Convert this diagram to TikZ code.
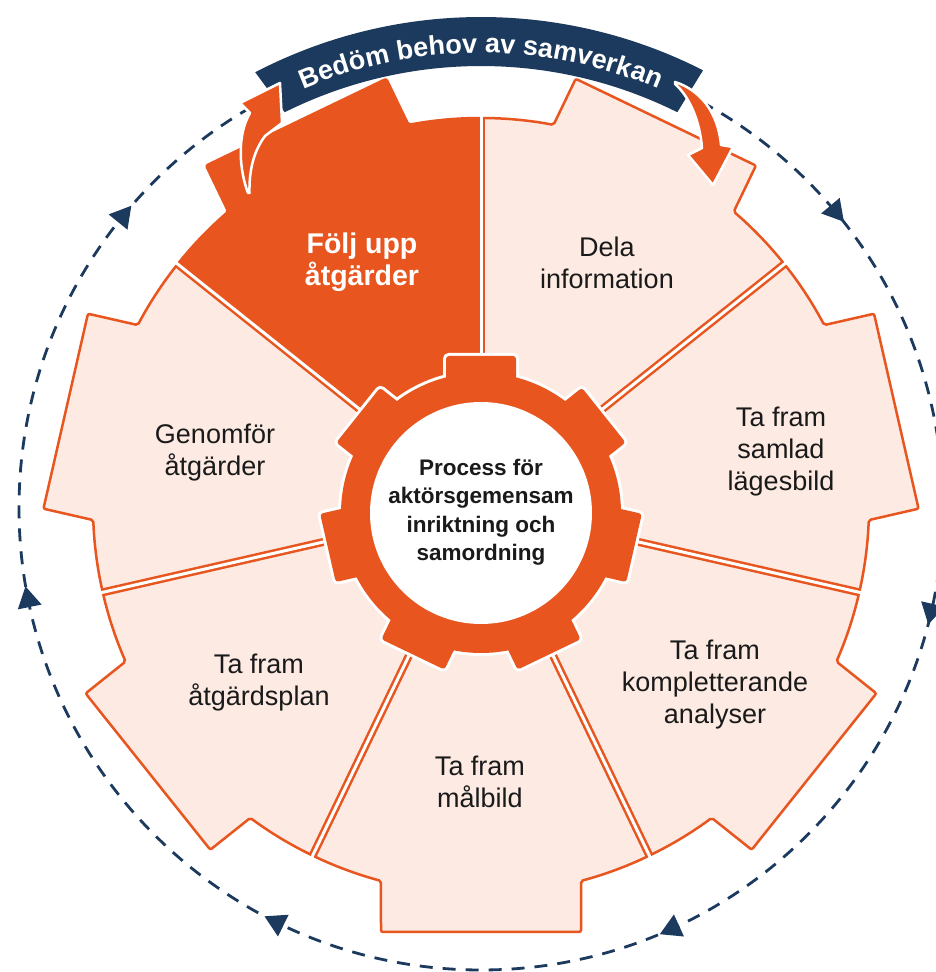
\documentclass[tikz,border=0pt]{standalone}
\usepackage{fontspec}
\setmainfont{Liberation Sans}
\usetikzlibrary{decorations.text}
\definecolor{orng}{HTML}{E8551E}
\definecolor{pinkf}{HTML}{FCEAE3}
\definecolor{navy}{HTML}{1C3A5E}
\definecolor{ink}{HTML}{1A1A1A}
\begin{document}
\begin{tikzpicture}[x=1pt,y=1pt,
  sectorshape/.style={draw=orng, line width=2.5pt, rounded corners=2pt},
  lbl/.style={align=center, font=\fontsize{27}{32}\selectfont, text=ink, inner sep=0pt},
  boldlbl/.style={align=center, font=\fontsize{28.5}{32}\selectfont\bfseries, text=white, inner sep=0pt},
  centerlbl/.style={align=center, font=\fontsize{22.5}{28.5}\selectfont\bfseries, text=ink, inner sep=0pt},
  curvedarrow/.style={fill=orng, draw=white, line width=2.5pt, line join=round}
]
\useasboundingbox (0,0) rectangle (936,972);
\fill[white] (0,0) rectangle (936,972);

% dashed cycle with arrowheads
\begin{scope}[shift={(481,464)}]
  \draw[navy, line width=2.8pt, dash pattern=on 13pt off 10pt] (0,0) circle[radius=462];
  \foreach \t in {140.9,191.5,243.8,294.5,347.14,40}
    \fill[navy, shift={(\t:462)}, rotate=\t-90] (0:14) -- (120:14) -- (240:14) -- cycle;
\end{scope}

% sectors
\begin{scope}[shift={(481,466)}]
  \foreach \m/\f in {64.286/pinkf, 12.857/pinkf, -38.571/pinkf, -90/pinkf, -141.429/pinkf, -192.857/pinkf, -244.286/orng}
    \path[sectorshape, fill=\f, rotate=\m-90] (0,0) -- (115.714:388)
      arc[start angle=115.714, end angle=104.94, radius=388] -- (-100,426) -- (100,426) -- (75.06:388)
      arc[start angle=75.06, end angle=64.286, radius=388] -- cycle;
  \foreach \b in {90, 38.571, -12.857, -64.286, -115.714, -167.143, -218.571} {
    \draw[orng, line width=8pt] (0,0) -- (\b:388);
    \draw[white, line width=3pt] (0,0) -- (\b:392);
  }
\end{scope}

% central gear
\begin{scope}[shift={(481,459)}]
  \draw[white, line width=6pt] (0,0) circle[radius=140];
  \foreach \b in {90, 38.571, -12.857, -64.286, -115.714, -167.143, -218.571}
    \draw[white, line width=6pt, rounded corners=3pt, rotate=\b-90] (-35,125) rectangle (35,157);
  \fill[orng] (0,0) circle[radius=140];
  \foreach \b in {90, 38.571, -12.857, -64.286, -115.714, -167.143, -218.571}
    \fill[orng, rounded corners=3pt, rotate=\b-90] (-35,125) rectangle (35,157);
  \fill[white] (0,0) circle[radius=111];
\end{scope}

% labels
\node[centerlbl] (core) at (481,460) {Process för\\aktörsgemensam\\inriktning och\\samordning};
\node[boldlbl] (folj) at (362,710) {Följ upp\\åtgärder};
\node[lbl] (dela) at (607,709) {Dela\\information};
\node[lbl] (samlad) at (781,520) {Ta fram\\samlad\\lägesbild};
\node[lbl] (kompl) at (715,287) {Ta fram\\kompletterande\\analyser};
\node[lbl] (malbild) at (480,190) {Ta fram\\målbild};
\node[lbl] (plan) at (259,289) {Ta fram\\åtgärdsplan};
\node[lbl] (genom) at (215,519) {Genomför\\åtgärder};

% banner
\begin{scope}[shift={(481,466)}]
  \fill[navy] (117.5:489) arc[start angle=117.5, end angle=63, radius=489] -- (63.5:440)
    arc[start angle=63.5, end angle=116.5, radius=440] -- cycle;
  \path[decorate, decoration={text along path, text align=center, text color=white,
    text={|\fontsize{27}{30}\selectfont\bfseries|Bedöm behov av samverkan}}]
    (125:453) arc[start angle=125, end angle=55, radius=453];
\end{scope}

% curved arrows
\filldraw[curvedarrow] (248,779) .. controls (240,800) and (236,835) .. (250,859) -- (240,869) -- (280,889)
  -- (282,849) -- (265,836) .. controls (253,820) and (249,800) .. (249.5,779) -- cycle;
\filldraw[curvedarrow] (675,890) .. controls (700,882) and (718,860) .. (721,827) -- (733,825) -- (713,787)
  -- (688,817) -- (702,824) .. controls (700,850) and (690,875) .. (675,888) -- cycle;
\end{tikzpicture}
\end{document}
